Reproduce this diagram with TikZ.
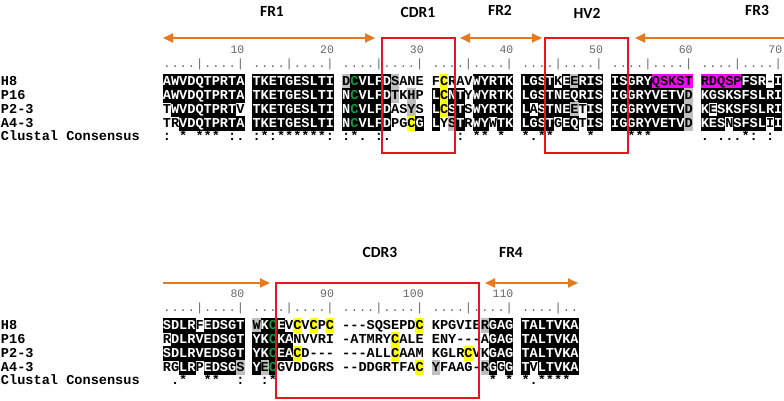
\documentclass[tikz,border=0pt]{standalone}
\usepackage{fontspec}
\usepackage{xstring}
\setmonofont{Liberation Mono}
\newfontfamily\regionfont{Carlito}
\usetikzlibrary{arrows.meta}

\definecolor{frOrange}{RGB}{228,121,32}
\definecolor{cdrRed}{RGB}{232,22,28}
\definecolor{cysGreen}{RGB}{20,150,60}
\definecolor{hlYellow}{RGB}{255,255,0}
\definecolor{hlMagenta}{RGB}{255,0,255}
\colorlet{simGray}{black!25}
\colorlet{rulerGray}{black!60}

\newcommand{\respitch}{8.15}
\newcommand{\resxzero}{167}

\tikzset{
  seqfont/.style={font=\ttfamily\bfseries\fontsize{13.6}{14}\selectfont},
  res/.style={seqfont, minimum width=8.35pt, minimum height=14.3pt, text height=7.8pt, text depth=0pt, shade #1},
  shade k/.style={fill=black, text=white},
  shade c/.style={fill=black, text=cysGreen},
  shade g/.style={fill=simGray, text=black},
  shade w/.style={text=black},
  shade y/.style={fill=hlYellow, text=black},
  shade m/.style={fill=hlMagenta, text=black},
  conssym/.style={seqfont, text height=5pt, text depth=0pt},
  rulerfont/.style={font=\ttfamily\fontsize{12}{12}\selectfont, text=rulerGray, text height=7pt, text depth=0pt},
  numfont/.style={font=\ttfamily\fontsize{11.5}{12}\selectfont, text=rulerGray},
  regionlabel/.style={font=\regionfont\bfseries\fontsize{15.5}{18}\selectfont},
  frtip/.tip={Triangle[length=10pt,width=9pt]},
  frline/.style={draw=frOrange, line width=1.8pt},
  cdrbox/.style={draw=cdrRed, line width=2pt}
}

% one sequence line: tag, label, y of row centre, residues, shades (blocks split by /)
\newcommand{\alnrow}[5]{%
  \node[seqfont, anchor=west, text height=7.8pt, text depth=0pt] (#1) at (1,#3) {#2};
  \StrDel{#4}{/}[\alnseq]%
  \StrDel{#5}{/}[\alnshd]%
  \StrLen{\alnseq}[\alnlen]%
  \foreach \i in {1,...,\alnlen}{%
    \StrChar{\alnseq}{\i}[\alnch]%
    \StrChar{\alnshd}{\i}[\alnsh]%
    \node[res=\alnsh] (#1-\i) at ({\resxzero+(\i-1+floor((\i-1)/10))*\respitch},#3) {\alnch};
  }%
}
% consensus line: tag, baseline, symbols (x = blank, / = block end)
\newcommand{\consrow}[3]{%
  \node[conssym, anchor=base west] (#1) at (1,#2) {Clustal Consensus};
  \StrDel{#3}{/}[\consseq]%
  \StrLen{\consseq}[\conslen]%
  \foreach \i in {1,...,\conslen}{%
    \StrChar{\consseq}{\i}[\consch]%
    \if x\consch\else
      \node[conssym, anchor=base] (#1-\i) at ({\resxzero+(\i-1+floor((\i-1)/10))*\respitch},#2) {\consch};
    \fi
  }%
}
% ruler with numbers: tag, baseline, first residue number, count
\newcommand{\rulerrow}[4]{%
  \foreach \i in {1,...,#4}{%
    \pgfmathtruncatemacro{\rnum}{#3+\i-1}%
    \pgfmathtruncatemacro{\rfive}{mod(\rnum,5)}%
    \pgfmathtruncatemacro{\rten}{mod(\rnum,10)}%
    \pgfmathsetmacro{\rx}{\resxzero+(\i-1+floor((\i-1)/10))*\respitch}%
    \ifnum\rfive=0
      \node[rulerfont, anchor=base] (#1-\i) at (\rx,#2) {|};
    \else
      \node[rulerfont, anchor=base] (#1-\i) at (\rx,#2) {.};
    \fi
    \ifnum\rten=0
      \node[numfont, anchor=base east] (#1-n\rnum) at (\rx+4,#2-14) {\rnum};
    \fi
  }%
}

\begin{document}
\begin{tikzpicture}[x=1pt, y=-1pt, every node/.style={inner sep=0pt, outer sep=0pt}]
\useasboundingbox (0,0) rectangle (784,401);

% region names
\node[regionlabel] (lblFR1) at (272,11) {FR1};
\node[regionlabel] (lblCDR1) at (418,12) {CDR1};
\node[regionlabel] (lblFR2) at (500,10) {FR2};
\node[regionlabel] (lblHV2) at (587,13) {HV2};
\node[regionlabel] (lblFR3) at (757,10) {FR3};
\node[regionlabel] (lblCDR3) at (380,252) {CDR3};
\node[regionlabel] (lblFR4) at (511,252) {FR4};

% region arrows
\coordinate (fr1L) at (163,38);  \coordinate (fr1R) at (375,38);
\coordinate (fr2L) at (460,38);  \coordinate (fr2R) at (542,38);
\coordinate (fr3L) at (635,38);  \coordinate (fr3R) at (784,38);
\coordinate (fr3bL) at (163,283); \coordinate (fr3bR) at (270,283);
\coordinate (fr4L) at (485,283); \coordinate (fr4R) at (578,283);
\draw[frline, frtip-frtip] (fr1L) -- (fr1R);
\draw[frline, frtip-frtip] (fr2L) -- (fr2R);
\draw[frline, frtip-] (fr3L) -- (fr3R);
\draw[frline, -frtip] (fr3bL) -- (fr3bR);
\draw[frline, frtip-frtip] (fr4L) -- (fr4R);

% upper block, residues 1-70
\rulerrow{rulA}{67.5}{1}{70}
\alnrow{tH}{H8}{81.5}{AWVDQTPRTA/TKETGESLTI/DCVLFDSANE/FCRAVWYRTK/LGSTKEERIS/ISGRYQSKST/RDQSPFSR-I}
  {kkkkkkkkkk/kkkkkkkkkk/gckkkkgwww/wywwwkkkkk/kkkkwkgkkk/kkkkkmmmmm/mmmmmkkkwk}
\alnrow{tP}{P16}{95.5}{AWVDQTPRTA/TKETGESLTI/NCVLFDTKHP/LCNTYWYRTK/LGSTNEQRIS/IGGRYVETVD/KGSKSFSLRI}
  {kkkkkkkkkk/kkkkkkkkkk/kckkkkgwgw/kykkwkkkkk/kkkkkkkkkk/kkkkkkkkkg/kkkkkkkkkk}
\alnrow{tQ}{P2-3}{109.5}{TWVDQTPRTV/TKETGESLTI/NCVLFDASYS/LCSTSWYRTK/LASTNEETIS/IGGRYVETVD/KESKSFSLRI}
  {wkkkkkkkkw/kkkkkkkkkk/kckkkkwwgw/kykkwkkkkk/kwkkkkgwkk/kkkkkkkkkg/kwkkkkkkkk}
\alnrow{tA}{A4-3}{123.5}{TRVDQTPRTA/TKETGESLTI/NCVLFDPGCG/LYSTRWYWTK/LGSTGEQTIS/IGGRYVETVD/KESNSFSLII}
  {wwkkkkkkkk/kkkkkkkkkk/kckkkkwwyk/kwgkwkkwkk/kkkkwkkwkk/kkkkkkkkkg/kkkwkkkkwk}
\consrow{cA}{140}{:x*x***x:./:*:******:/:*.x:.xxxx/xxx:x**x*x/*.**xxxx*x/xx***xxxxx/.x...*:x:x}

% lower block, residues 71-117
\rulerrow{rulB}{311.5}{71}{47}
\alnrow{bH}{H8}{325.5}{SDLRFEDSGT/WKCEVCVCPC/---SQSEPDC/KPGVIERGAG/TALTVKA}
  {kkkkwkkkkk/gkckwywywy/wwwwwwwwwy/wwwwwwgkkk/kkkkkkk}
\alnrow{bP}{P16}{339.5}{RDLRVEDSGT/YKCKANVVRI/-ATMRYCALE/ENY---AGAG/TALTVKA}
  {wkkkkkkkkk/kkckkwwwww/wwwwwwywww/wwwwwwwkkk/kkkkkkk}
\alnrow{bQ}{P2-3}{353.5}{SDLRVEDSGT/YKCEACD---/---ALLCAAM/KGLRCVKGAG/TALTVKA}
  {kkkkkkkkkk/kkckkywwww/wwwwwwywww/wwwwywwkkk/kkkkkkk}
\alnrow{bA}{A4-3}{367.5}{RGLRPEDSGS/YECGVDDGRS/--DDGRTFAC/YFAAG-RGGG/TVLTVKA}
  {wwkkwkkkkg/kgcwwwwwww/wwwwwwwwwy/gwwwwwgkwk/kwkkkkk}
\consrow{cB}{384.5}{x.*xx**xx:/x:*xxxxxxx/xxxxxxxxxx/xxxxxxx*x*/*.****x}

% CDR / HV frames
\draw[cdrbox] (381.5,38) rectangle (455,153);
\draw[cdrbox] (545,38) rectangle (628,153);
\draw[cdrbox] (276,283) rectangle (479,398);
\end{tikzpicture}
\end{document}
